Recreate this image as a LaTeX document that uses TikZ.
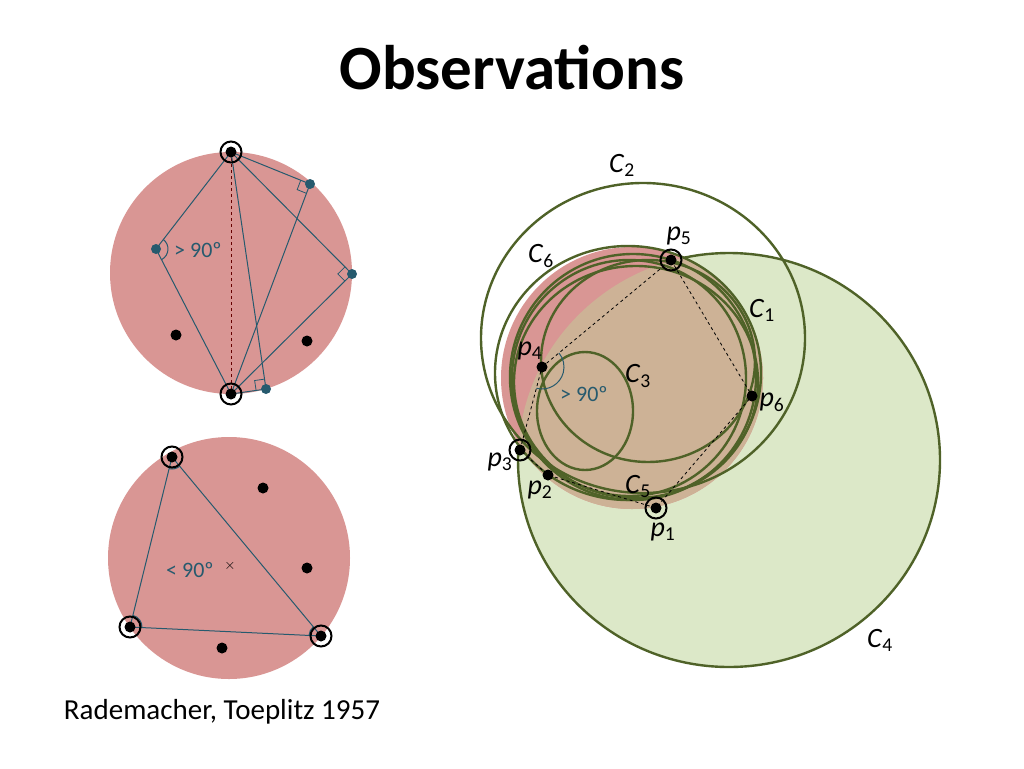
\documentclass[tikz,border=0pt]{standalone}
\usepackage{fontspec}
\setmainfont{Carlito}
\usetikzlibrary{angles}
\definecolor{pinkred}{RGB}{217,150,148}
\definecolor{lgreen}{RGB}{220,232,200}
\definecolor{tanfill}{RGB}{205,178,150}
\definecolor{dgreen}{RGB}{79,98,40}
\definecolor{tealline}{RGB}{38,90,110}
\newcommand{\lab}[2]{\textit{#1}\textsubscript{#2}}
\tikzset{
  dot/.style={circle,fill=black,inner sep=0pt,minimum size=11pt},
  tdot/.style={circle,fill=tealline,inner sep=0pt,minimum size=10pt},
  ring/.style={draw=black,line width=2pt,circle,inner sep=0pt,minimum size=21pt},
  seg/.style={draw=tealline,line width=1pt},
  circ/.style={draw=dgreen,line width=2.4pt},
  lbl/.style={font=\fontsize{28}{28}\selectfont},
  anglbl/.style={tealline,font=\fontsize{22}{22}\selectfont}
}
\begin{document}
\begin{tikzpicture}[x=1pt,y=-1pt]
\useasboundingbox (0,0) rectangle (1024,768);

% title and source
\node (title) at (512,68) {\fontsize{63}{63}\selectfont\bfseries Observations};
\node (src) at (222,712) {\fontsize{29}{29}\selectfont Rademacher, Toeplitz 1957};

%Top left disk
\fill [pinkred] (231,273) circle (121);
\coordinate (A) at (231,152);
\coordinate (B) at (231,394);
\coordinate (q1) at (156,249);
\coordinate (q2) at (310,184);
\coordinate (q3) at (352,274);
\coordinate (q4) at (266,389);
\draw [dashed,color=black!60!red,line width=1pt] (A) -- (B);
\foreach \q in {q1,q2,q3,q4} \draw [seg] (A) -- (\q) -- (B);
\foreach \q in {q2,q3,q4} \draw [seg,line width=0.8pt] pic [draw=tealline,angle radius=10pt] {right angle=A--\q--B};
\draw [seg] pic [draw=tealline,angle radius=12pt] {angle=B--q1--A};
\node [anglbl] (ob) at (198,250) {> 90º};
\foreach \q in {q1,q2,q3,q4} \node [tdot] (t\q) at (\q) {};
\node [dot] (d1) at (176,335) {};
\node [dot] (d2) at (307,341) {};
\node [ring] (rA) at (A) {}; \node [dot] at (A) {};
\node [ring] (rB) at (B) {}; \node [dot] at (B) {};

%Bottom left disk
\fill [pinkred] (229,558) circle (121);
\coordinate (U) at (172,457);
\coordinate (V) at (130,627);
\coordinate (W) at (321,636);
\draw [seg] (U) -- (V) -- (W) -- cycle;
\draw [seg] pic [draw=tealline,angle radius=12pt] {angle=V--U--W};
\draw [seg] pic [draw=tealline,angle radius=12pt] {angle=W--V--U};
\draw [seg] pic [draw=tealline,angle radius=12pt] {angle=U--W--V};
\node [anglbl] (ac) at (190,570) {< 90º};
\node [font=\Large] (cross) at (230,566) {$\times$};
\node [dot] (e1) at (263,488) {};
\node [dot] (e2) at (307,568) {};
\node [dot] (e3) at (222,648) {};
\foreach \q in {U,V,W} {\node [ring] at (\q) {}; \node [dot] at (\q) {};}

%Right: circles
\filldraw [fill=lgreen,circ] (729,460) ellipse (211 and 207);
\fill [pinkred] (632,378) circle (131);
\begin{scope}
\clip (729,460) ellipse (211 and 207);
\fill [tanfill] (632,378) circle (131);
\end{scope}
\draw [circ] (643,338) ellipse (162 and 155);
\draw [circ] (628,373) ellipse (133 and 127);
\draw [circ] (633,377) ellipse (123 and 123);
\draw [circ] (629,378) ellipse (117 and 118);
\draw [circ] (636,382) ellipse (122 and 116);
\draw [circ] (648,361) ellipse (107 and 101);
\draw [circ] (585,411) ellipse (48 and 59);

\coordinate (p1) at (656,508);
\coordinate (p2) at (548,475);
\coordinate (p3) at (520,450);
\coordinate (p4) at (542,367);
\coordinate (p5) at (671,260);
\coordinate (p6) at (752,396);
\draw [dashed,line width=0.8pt] (p4) -- (p5) -- (p6) -- (p1) -- (p2) -- (p3) -- cycle;
\draw [seg] pic [draw=tealline,angle radius=22pt] {angle=p3--p4--p5};
\node [anglbl] (ob2) at (584,394) {> 90º};
\foreach \q in {p2,p4,p6} \node [dot] at (\q) {};
\foreach \q in {p1,p3,p5} {\node [ring] at (\q) {}; \node [dot] at (\q) {};}

\node [lbl] (lp1) at (663,532) {\lab{p}{1}};
\node [lbl] (lp2) at (540,490) {\lab{p}{2}};
\node [lbl] (lp3) at (500,462) {\lab{p}{3}};
\node [lbl] (lp4) at (530,351) {\lab{p}{4}};
\node [lbl] (lp5) at (679,236) {\lab{p}{5}};
\node [lbl] (lp6) at (772,402) {\lab{p}{6}};
\node [lbl] (lC1) at (762,310) {\lab{C}{1}};
\node [lbl] (lC2) at (622,165) {\lab{C}{2}};
\node [lbl] (lC3) at (638,376) {\lab{C}{3}};
\node [lbl] (lC4) at (880,640) {\lab{C}{4}};
\node [lbl] (lC5) at (638,486) {\lab{C}{5}};
\node [lbl] (lC6) at (541,256) {\lab{C}{6}};
\end{tikzpicture}
\end{document}
